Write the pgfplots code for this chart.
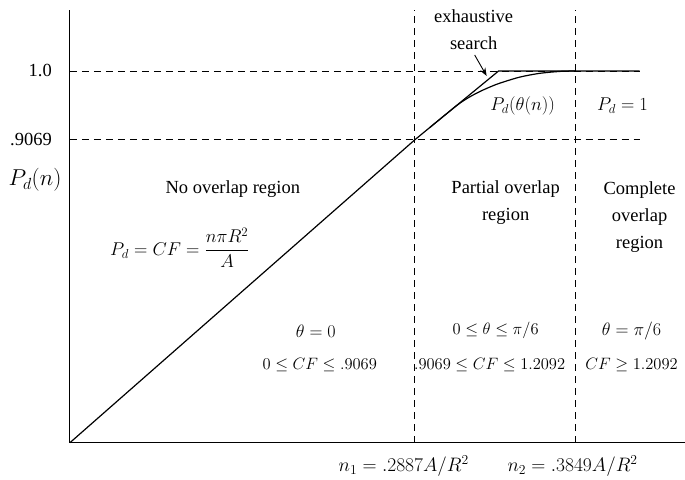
\documentclass[border=0pt]{standalone}
\usepackage{fix-cm}
\usepackage{amsmath}
\usepackage[no-math]{fontspec}
\setmainfont{Liberation Serif}
\usepackage{pgfplots}
\pgfplotsset{compat=1.18}
\usetikzlibrary{arrows.meta}
\newcommand\txt{\fontsize{18.5}{27}\selectfont}
\newcommand\mth{\fontsize{18.5}{22}\selectfont}
\newcommand\smth{\fontsize{16.5}{20}\selectfont}
\newcommand\tmth{\fontsize{18}{21}\selectfont}
\newcommand\bmth{\fontsize{19.5}{23}\selectfont}
\begin{document}
\begin{tikzpicture}
\begin{axis}[
  scale only axis, width=615pt, height=433pt,
  xmin=0, xmax=615, ymin=0, ymax=433,
  axis lines=left, axis line style={-, line width=1pt},
  xtick=\empty, ytick=\empty, clip=false,
]
% invisible frame = full picture
\path (axis cs:-70,-37) rectangle (axis cs:615,443);
% dashed guides
\addplot[black, line width=0.8pt, dash pattern=on 7pt off 5pt] coordinates {(0,372) (570,372)};
\addplot[black, line width=0.8pt, dash pattern=on 7pt off 5pt] coordinates {(0,303) (570,303)};
\addplot[black, line width=0.8pt, dash pattern=on 7pt off 5pt] coordinates {(345,0) (345,433)};
\addplot[black, line width=0.8pt, dash pattern=on 7pt off 5pt] coordinates {(506,0) (506,433)};
% exhaustive search (linear)
\addplot[black, line width=1.2pt] coordinates {(0,0) (345,303) (429,372) (570,372)};
% P_d(theta(n)) curve
\addplot[black, line width=1.2pt, smooth, tension=0.5] coordinates {(360,315.3) (380,331.7) (390,339.6) (400,346) (410,351.3) (420,355.8) (430,359.7) (450,365.8) (470,369.6) (490,371.5) (506,372)};
% arrow
\draw[-{Stealth[length=8pt,width=6pt]}, line width=0.9pt] (axis cs:405,388) -- (axis cs:417,367);
% tick labels
\node[anchor=east, inner sep=0pt, font=\txt] at (axis cs:-18,372) {1.0};
\node[anchor=east, inner sep=0pt, font=\txt] at (axis cs:-18,303) {.9069};
\node[inner sep=0pt] at (axis cs:-35,263) {\fontsize{23}{27}\selectfont$P_d(n)$};
% texts
\node[align=center, inner sep=0pt, font=\txt] at (axis cs:404,413) {exhaustive\\search};
\node[inner sep=0pt, font=\mth] at (axis cs:453,337) {$P_d(\theta(n))$};
\node[inner sep=0pt, font=\mth] at (axis cs:553,337) {$P_d=1$};
\node[inner sep=0pt, font=\txt] at (axis cs:163,254) {No overlap region};
\node[inner sep=0pt, font=\mth] at (axis cs:110,195) {$P_d=CF=\dfrac{n\pi R^2}{A}$};
\node[align=center, inner sep=0pt, font=\txt] at (axis cs:436,240) {Partial overlap\\region};
\node[align=center, inner sep=0pt, font=\txt] at (axis cs:570,226) {Complete\\overlap\\region};
\node[inner sep=0pt, font=\tmth] at (axis cs:246,112) {$\theta=0$};
\node[inner sep=0pt, font=\smth] at (axis cs:250,78) {$0\le CF\le .9069$};
\node[inner sep=0pt, font=\smth] at (axis cs:426,112) {$0\le\theta\le\pi/6$};
\node[inner sep=0pt, font=\smth] at (axis cs:420,78) {$.9069\le CF\le 1.2092$};
\node[inner sep=0pt, font=\tmth] at (axis cs:562,112) {$\theta=\pi/6$};
\node[inner sep=0pt, font=\smth] at (axis cs:562,78) {$CF\ge 1.2092$};
\node[inner sep=0pt, font=\bmth] at (axis cs:334,-23) {$n_1=.2887A/R^2$};
\node[inner sep=0pt, font=\bmth] at (axis cs:503,-23) {$n_2=.3849A/R^2$};
\end{axis}
\end{tikzpicture}
\end{document}
